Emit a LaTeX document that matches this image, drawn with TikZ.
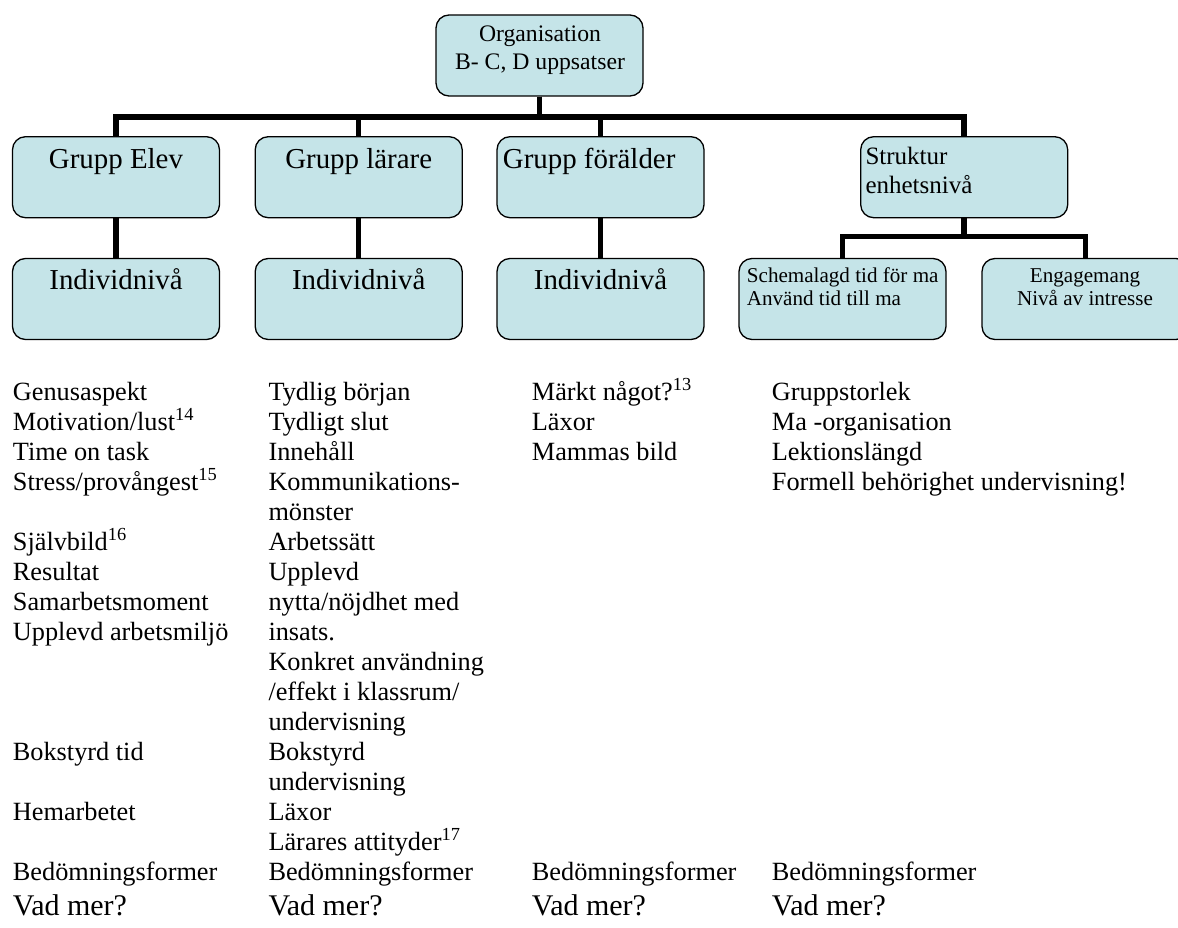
\documentclass[tikz,border=0pt]{standalone}
\usepackage{fontspec}
\setmainfont{Liberation Serif}

\definecolor{boxfill}{RGB}{197,228,232}
\newcommand\fsz[2]{\fontsize{#1}{#2}\selectfont}

\tikzset{
  orgbox/.style={draw=black, line width=1.3pt, fill=boxfill, rounded corners=13pt,
    minimum width=207pt, minimum height=81pt, inner sep=0pt},
  conn/.style={line width=5.5pt},
  toptext/.style={inner sep=0pt, anchor=base, align=center, font=\fsz{23.7}{28.3}},
  grptext/.style={inner sep=0pt, anchor=base, font=\fsz{28.9}{34}},
  strtext/.style={inner sep=0pt, anchor=base west, align=left, font=\fsz{25}{28.3}},
  smalltext/.style={inner sep=0pt, anchor=base, font=\fsz{21.1}{23.3}},
  item/.style={inner sep=0pt, anchor=base west, align=left, font=\fsz{26.3}{30}},
  more/.style={inner sep=0pt, anchor=base west, font=\fsz{30}{35}},
}

\begin{document}
\begin{tikzpicture}[x=1pt,y=-1pt]
\useasboundingbox (0,0) rectangle (1178,928);
\clip (0,0) rectangle (1178,928);

% boxes
\node[orgbox] (org) at (539.5,55.5) {};
\node[orgbox] (elev) at (116,177.2) {};
\node[orgbox] (lar) at (358.7,177.2) {};
\node[orgbox] (foral) at (600.5,177.2) {};
\node[orgbox] (strukt) at (964.2,177.2) {};
\node[orgbox] (ind1) at (116,299) {};
\node[orgbox] (ind2) at (358.7,299) {};
\node[orgbox] (ind3) at (600.5,299) {};
\node[orgbox] (schema) at (842.5,299) {};
\node[orgbox] (engage) at (1085.5,299) {};

% box texts (multi-line nodes sit on their last line)
\node[toptext] (orgtxt) at (540,70) {Organisation\\B- C, D uppsatser};
\node[grptext] (elevtxt) at (116,169) {Grupp Elev};
\node[grptext] (lartxt) at (358.7,169) {Grupp lärare};
\node[grptext, anchor=base west] (foraltxt) at (502.7,169) {Grupp förälder};
\node[strtext] (strukttxt) at (865.3,193.3) {Struktur\\enhetsnivå};
\foreach \i/\x in {1/116, 2/358.7, 3/600.5}
  \node[grptext] (ind\i txt) at (\x,289.3) {Individnivå};
\node[smalltext, anchor=base west, align=left] (schematxt) at (746.7,305.3) {Schemalagd tid för ma\\Använd tid till ma};
\node[smalltext, align=center] (engagetxt) at (1085,305.3) {Engagemang\\Nivå av intresse};

% connectors
\coordinate (mainbar) at (0,117);
\coordinate (subbar) at (0,236.7);
\foreach \g in {elev,lar,foral,strukt}
  \draw[conn] (org.south) -- (org.south |- mainbar) -| (\g.north);
\foreach \g/\i in {elev/ind1,lar/ind2,foral/ind3}
  \draw[conn] (\g.south) -- (\i.north);
\foreach \s in {schema,engage}
  \draw[conn] (strukt.south) -- (strukt.south |- subbar) -| (\s.north);

% lists
\node[item] (col1) at (12.7,820) {Genusaspekt\\Motivation/lust\textsuperscript{14}\\Time on task\\Stress/provångest\textsuperscript{15}\\[30pt]Självbild\textsuperscript{16}\\Resultat\\Samarbetsmoment\\Upplevd arbetsmiljö\\[90pt]Bokstyrd tid\\[30pt]Hemarbetet};
\node[item] (col2) at (268.3,850) {Tydlig början\\Tydligt slut\\Innehåll\\Kommunikations-\\mönster\\Arbetssätt\\Upplevd\\nytta/nöjdhet med\\insats.\\Konkret användning\\/effekt i klassrum/\\undervisning\\Bokstyrd\\undervisning\\Läxor\\Lärares attityder\textsuperscript{17}};
\node[item] (col3) at (531.7,460) {Märkt något?\textsuperscript{13}\\Läxor\\Mammas bild};
\node[item] (col4) at (771.7,490) {Gruppstorlek\\Ma -organisation\\Lektionslängd\\Formell behörighet undervisning!};
\foreach \c/\x in {1/12.7, 2/268.3, 3/531.7, 4/771.7} {
  \node[item] (bed\c) at (\x,880) {Bedömningsformer};
  \node[more] (mer\c) at (\x,915) {Vad mer?};
}
\end{tikzpicture}
\end{document}
